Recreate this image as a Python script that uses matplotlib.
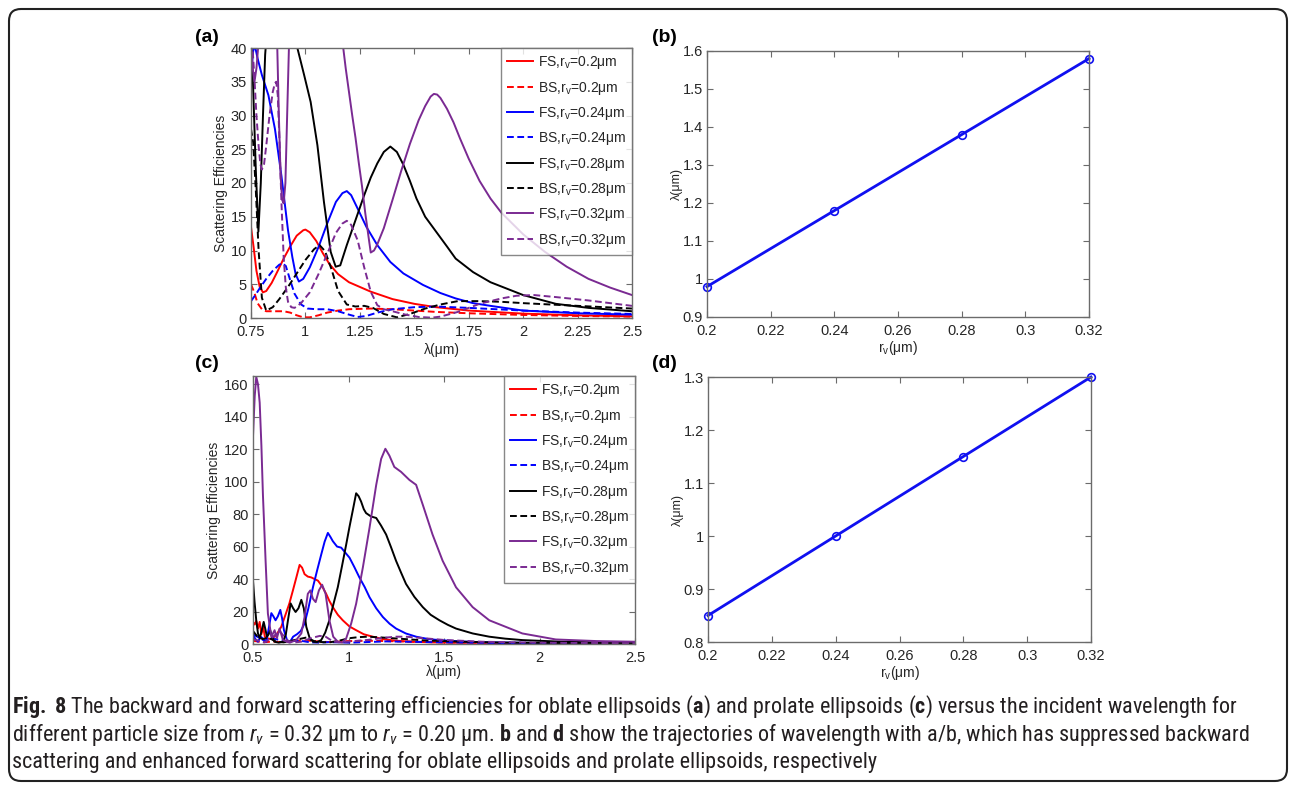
import matplotlib
matplotlib.use("Agg")
import matplotlib.pyplot as plt
from matplotlib.patches import FancyBboxPatch
from matplotlib.ticker import FormatStrFormatter

plt.rcParams['font.family'] = ['Liberation Sans', 'DejaVu Sans']
plt.rcParams['mathtext.fontset'] = 'custom'
plt.rcParams['mathtext.rm'] = 'Roboto Condensed'
plt.rcParams['mathtext.it'] = 'Roboto Condensed:italic'
plt.rcParams['mathtext.bf'] = 'Roboto Condensed:bold'

# ---------- panel (a): oblate ellipsoids ----------
a_fs_020_x = [0.75, 0.762, 0.775, 0.79, 0.805, 0.82, 0.845, 0.87, 0.9, 0.93, 0.96, 0.99, 1.0, 1.02, 1.05, 1.08,
              1.11, 1.15, 1.2, 1.25, 1.3, 1.4, 1.5, 1.6, 1.75, 2.0, 2.25, 2.5]
a_fs_020_y = [13.5, 10.5, 7.0, 4.6, 3.8, 4.0, 5.2, 6.8, 8.8, 10.6, 12.2, 13.0, 13.1, 12.7, 11.4, 9.6,
              8.0, 6.5, 5.3, 4.6, 3.9, 2.8, 2.1, 1.6, 1.1, 0.65, 0.4, 0.25]
a_bs_020_x = [0.75, 0.765, 0.78, 0.8, 0.82, 0.85, 0.9, 0.93, 0.96, 0.99, 1.02, 1.06, 1.1, 1.15, 1.2, 1.3,
              1.4, 1.5, 1.6, 1.75, 2.0, 2.25, 2.5]
a_bs_020_y = [5.0, 3.8, 2.2, 1.3, 1.0, 1.0, 1.0, 0.8, 0.4, 0.1, 0.1, 0.4, 0.8, 1.1, 1.3, 1.4,
              1.3, 1.1, 0.9, 0.7, 0.45, 0.3, 0.2]
a_fs_024_x = [0.75, 0.76, 0.767, 0.78, 0.8, 0.83, 0.86, 0.89, 0.92, 0.94, 0.955, 0.97, 0.99, 1.02, 1.06, 1.1,
              1.14, 1.17, 1.19, 1.21, 1.24, 1.28, 1.33, 1.39, 1.45, 1.54, 1.62, 1.69, 1.77, 1.85, 2.0, 2.25, 2.5]
a_fs_024_y = [36, 39.5, 40.5, 38.5, 36, 33, 28, 21, 13, 9, 6.5, 5.4, 5.8, 7.5, 10.5, 14.0,
              17.2, 18.5, 18.8, 18.2, 16.2, 13.5, 10.8, 8.3, 6.6, 4.9, 3.7, 2.9, 2.2, 1.8, 1.1, 0.7, 0.5]
a_bs_024_x = [0.75, 0.77, 0.79, 0.82, 0.85, 0.88, 0.895, 0.91, 0.93, 0.95, 0.98, 1.01, 1.05, 1.1, 1.15, 1.2,
              1.24, 1.28, 1.33, 1.4, 1.5, 1.6, 1.75, 2.0, 2.25, 2.5]
a_bs_024_y = [2.5, 3.4, 4.4, 5.8, 7.0, 7.9, 8.1, 7.7, 5.6, 3.6, 2.0, 1.4, 1.3, 1.3, 1.0, 0.5,
              0.15, 0.3, 0.8, 1.3, 1.6, 1.7, 1.5, 1.1, 0.8, 0.6]
a_fs_028_x = [0.75, 0.76, 0.772, 0.784, 0.795, 0.805, 0.815, 0.822, 0.95, 0.963, 0.994, 1.024, 1.055, 1.085,
              1.116, 1.139, 1.16, 1.19, 1.23, 1.27, 1.3, 1.33, 1.36, 1.39, 1.42, 1.45, 1.48, 1.51, 1.55,
              1.6, 1.65, 1.69, 1.77, 1.85, 2.0, 2.15, 2.3, 2.5]
a_fs_028_y = [42, 34, 22, 12.8, 20, 30, 39, 42, 42, 40, 36, 32, 25.6, 17.2,
              9.8, 7.6, 7.8, 10.8, 14.5, 18.2, 20.8, 22.9, 24.6, 25.4, 24.6, 22.7, 20.3, 17.7, 15.0,
              12.8, 10.6, 8.8, 6.8, 5.3, 3.4, 2.1, 1.5, 1.0]
a_bs_028_x = [0.75, 0.76, 0.772, 0.785, 0.8, 0.82, 0.85, 0.88, 0.92, 0.96, 1.0, 1.04, 1.065, 1.09, 1.12,
              1.15, 1.19, 1.23, 1.27, 1.31, 1.36, 1.42, 1.48, 1.55, 1.62, 1.7, 1.8, 1.9, 2.0, 2.25, 2.5]
a_bs_028_y = [28, 26, 19, 10, 3.0, 1.1, 1.6, 2.8, 4.6, 6.6, 8.6, 10.2, 10.8, 9.9, 7.2,
              4.0, 2.0, 1.7, 1.8, 1.5, 0.6, 0.1, 0.6, 1.4, 2.0, 2.5, 2.5, 2.4, 2.2, 1.8, 1.4]
a_fs_032_x = [0.75, 0.758, 0.766, 0.775, 0.785, 0.87, 0.878, 0.886, 0.893, 0.9, 0.908, 0.916, 0.925, 1.1,
              1.17, 1.185, 1.2, 1.215, 1.23, 1.245, 1.26, 1.275, 1.29, 1.3, 1.315, 1.33, 1.36, 1.4, 1.44,
              1.48, 1.52, 1.55, 1.575, 1.59, 1.605, 1.62, 1.65, 1.68, 1.71, 1.75, 1.8, 1.85, 1.9, 1.95,
              2.0, 2.1, 2.2, 2.3, 2.4, 2.5]
a_fs_032_y = [41, 37, 35, 37, 41, 41, 30, 21, 17.5, 17, 20, 30, 41, 41,
              41, 37, 33.5, 30, 26.7, 23, 19.5, 15.5, 12, 9.7, 10.0, 10.9, 13.3, 17.5, 21.8,
              25.8, 29.3, 31.4, 32.8, 33.2, 33.1, 32.6, 31.0, 29.0, 26.6, 23.6, 20.3, 17.7, 15.6, 14.0,
              12.4, 9.8, 7.6, 5.8, 4.5, 3.4]
a_bs_032_x = [0.755, 0.765, 0.775, 0.785, 0.793, 0.8, 0.81, 0.82, 0.835, 0.85, 0.86, 0.866, 0.873, 0.88,
              0.89, 0.9, 0.91, 0.92, 0.935, 0.95, 0.98, 1.02, 1.06, 1.1, 1.14, 1.17, 1.19, 1.21, 1.24,
              1.27, 1.3, 1.33, 1.36, 1.4, 1.46, 1.52, 1.58, 1.62, 1.7, 1.8, 1.9, 1.97, 2.05, 2.15, 2.3, 2.5]
a_bs_032_y = [41, 36, 30, 25.5, 22.8, 22, 22.8, 25.5, 30, 33.5, 34.8, 35, 33, 27,
              17, 9, 4.5, 2.4, 1.6, 1.5, 2.2, 3.8, 6.5, 9.5, 12.6, 14.0, 14.4, 13.8, 11.5,
              7.5, 3.9, 1.9, 1.3, 1.0, 0.5, 0.15, 0.05, 0.2, 0.9, 2.1, 2.9, 3.3, 3.4, 3.1, 2.6, 1.8]

# ---------- panel (c): prolate ellipsoids ----------
c_fs_020_x = [0.5, 0.509, 0.517, 0.526, 0.535, 0.544, 0.553, 0.562, 0.575, 0.596, 0.622, 0.648, 0.67, 0.69,
              0.709, 0.727, 0.744, 0.757, 0.77, 0.787, 0.805, 0.822, 0.84, 0.862, 0.883, 0.9, 0.918, 0.944,
              0.97, 1.005, 1.04, 1.08, 1.127, 1.18, 1.249, 1.35, 1.45, 1.563, 1.8, 2.1, 2.5]
c_fs_020_y = [13.6, 12.0, 14.2, 9.5, 13.6, 6, 10.5, 4.5, 3.5, 3.0, 5.5, 10.6, 18, 24.8,
              33, 41, 48.7, 47, 43, 41.5, 41, 40, 39, 35.5, 30.9, 26.5, 22.7, 18.0,
              14.6, 10.8, 8.5, 6.0, 4.5, 3.0, 2.0, 1.3, 1.0, 0.8, 0.6, 0.5, 0.4]
c_bs_020_x = [0.5, 0.55, 0.6, 0.65, 0.7, 0.75, 0.8, 0.85, 0.9, 0.95, 1.0, 1.1, 1.2, 1.3, 1.5, 1.8, 2.1, 2.5]
c_bs_020_y = [2.0, 1.0, 1.5, 1.2, 1.8, 2.2, 2.0, 1.5, 1.2, 1.5, 1.8, 2.0, 1.8, 1.5, 1.0, 0.6, 0.4, 0.3]
c_fs_024_x = [0.5, 0.513, 0.526, 0.54, 0.556, 0.57, 0.583, 0.596, 0.607, 0.618, 0.63, 0.643, 0.652, 0.662,
              0.678, 0.695, 0.71, 0.73, 0.75, 0.77, 0.79, 0.814, 0.835, 0.857, 0.875, 0.892, 0.905, 0.918,
              0.94, 0.962, 0.985, 1.005, 1.03, 1.057, 1.085, 1.11, 1.145, 1.18, 1.215, 1.249, 1.3, 1.354,
              1.42, 1.476, 1.6, 1.737, 2.0, 2.5]
c_fs_024_y = [5.5, 3.0, 1.4, 4.5, 3.0, 1.4, 10, 19, 17, 14.6, 17, 21, 16, 8.5,
              2.4, 1.5, 4.5, 6, 8, 12.6, 22, 35, 45, 55, 63, 68.4, 66, 63.3,
              60, 59.3, 56, 53.2, 47.5, 41, 35, 28.8, 22, 16.6, 12.5, 9.5, 6.5, 4.5,
              3.0, 2.4, 1.5, 1.0, 0.6, 0.4]
c_bs_024_x = [0.5, 0.53, 0.56, 0.6, 0.64, 0.68, 0.72, 0.76, 0.8, 0.85, 0.9, 0.95, 1.0, 1.1, 1.2, 1.3, 1.5,
              1.8, 2.1, 2.5]
c_bs_024_y = [6, 4, 2, 3.5, 2.5, 1.5, 2.0, 1.8, 1.0, 0.8, 1.2, 1.0, 0.8, 1.2, 1.6, 1.4, 1.0,
              0.6, 0.4, 0.3]
c_fs_028_x = [0.5, 0.508, 0.517, 0.526, 0.535, 0.545, 0.556, 0.565, 0.573, 0.582, 0.59, 0.6, 0.613, 0.635,
              0.657, 0.672, 0.683, 0.697, 0.71, 0.723, 0.738, 0.753, 0.766, 0.779, 0.797, 0.814, 0.835,
              0.857, 0.878, 0.9, 0.92, 0.944, 0.966, 0.988, 1.005, 1.023, 1.04, 1.053, 1.066, 1.08, 1.092,
              1.118, 1.145, 1.17, 1.197, 1.223, 1.249, 1.275, 1.301, 1.345, 1.389, 1.43, 1.476, 1.52,
              1.563, 1.65, 1.737, 1.82, 1.911, 2.1, 2.3, 2.5]
c_fs_028_y = [39, 26, 14.6, 6.5, 3.5, 8, 13.6, 9, 4.5, 6, 8.5, 4, 1.4, 0.8,
              1.4, 6, 14.6, 25, 22, 19.7, 22, 27.2, 22, 10.6, 3.5, 1.4, 1.2,
              2.4, 7, 14.6, 24, 35, 48, 61.3, 72, 82.6, 92.8, 91, 87.7, 83, 80.6,
              78.5, 77.6, 73, 67.4, 59.5, 51.2, 44, 37, 29, 22.7, 18, 14.6, 11.8,
              9.5, 6.5, 4.5, 3.3, 2.4, 1.5, 1.0, 0.8]
c_bs_028_x = [0.5, 0.52, 0.55, 0.58, 0.62, 0.66, 0.7, 0.74, 0.78, 0.82, 0.86, 0.9, 0.95, 1.0, 1.05, 1.1,
              1.15, 1.2, 1.3, 1.4, 1.6, 1.8, 2.1, 2.5]
c_bs_028_y = [8, 5, 3, 4, 1.5, 1.0, 2, 3, 4.0, 1.8, 1.2, 1.0, 2.0, 3.5, 4.2, 4.5,
              4.2, 3.8, 3.0, 2.2, 1.4, 0.9, 0.6, 0.4]
c_fs_032_x = [0.5, 0.509, 0.517, 0.526, 0.535, 0.544, 0.552, 0.566, 0.578, 0.596, 0.613, 0.625, 0.639,
              0.657, 0.692, 0.726, 0.753, 0.77, 0.787, 0.8, 0.814, 0.828, 0.845, 0.862, 0.88, 0.9, 0.92,
              0.944, 0.967, 0.988, 1.014, 1.04, 1.075, 1.11, 1.145, 1.171, 1.193, 1.214, 1.24, 1.275,
              1.319, 1.354, 1.389, 1.44, 1.493, 1.563, 1.65, 1.737, 1.91, 2.085, 2.3, 2.5]
c_fs_032_y = [128, 152.7, 164.5, 160, 148.6, 122, 91.8, 51, 18.7, 4.5, 8.5, 3.5, 9.5,
              2.4, 0.8, 2.4, 6.5, 16.6, 30.9, 33, 27.8, 25.8, 33, 36.5, 30.9, 14.6, 4.5,
              1.4, 0.8, 3.5, 12.6, 24.8, 47, 71.5, 97.9, 114, 120.2, 116, 109, 106,
              101, 98, 85.7, 67.4, 51.2, 34.9, 22.7, 14.6, 6.5, 2.8, 1.8, 1.4]
c_bs_032_x = [0.5, 0.53, 0.56, 0.6, 0.64, 0.68, 0.72, 0.76, 0.8, 0.85, 0.88, 0.92, 0.96, 1.0, 1.1, 1.2,
              1.25, 1.3, 1.4, 1.5, 1.7, 2.0, 2.5]
c_bs_032_y = [3, 2, 1, 4, 8, 2, 1, 1.5, 3.5, 5.0, 4.5, 1.5, 1.0, 1.5, 2.5, 4.0,
              4.5, 4.5, 3.5, 2.5, 1.4, 0.8, 0.5]

# ---------- panels (b) and (d): peak wavelength vs size ----------
r_v = [0.2, 0.24, 0.28, 0.32]
b_lambda = [0.98, 1.18, 1.38, 1.58]
d_lambda = [0.85, 1.0, 1.15, 1.3]

sizes = ['0.2', '0.24', '0.28', '0.32']
colors = ['#ff0000', '#0000ff', '#000000', '#7a2a92']

AX_COL = '#6b6b6b'
TXT_COL = '#262626'


def style_axes(ax):
    for sp in ax.spines.values():
        sp.set_color(AX_COL)
        sp.set_linewidth(1.0)
    ax.tick_params(direction='in', top=True, right=True, length=4, width=0.8,
                   color=AX_COL, labelcolor=TXT_COL, labelsize=10.5)
    ax.tick_params(axis='x', pad=5)
    ax.tick_params(axis='y', pad=3)


def spectra(ax, curves, xlim, ylim, xticks, yticks, xpad):
    handles = []
    for i, (fx, fy, bx, by) in enumerate(curves):
        h1, = ax.plot(fx, fy, '-', color=colors[i], lw=1.4,
                      label='FS,r$_\\mathregular{v}$=' + sizes[i] + 'μm')
        h2, = ax.plot(bx, by, '--', color=colors[i], lw=1.4, dashes=(3.5, 1.8),
                      label='BS,r$_\\mathregular{v}$=' + sizes[i] + 'μm')
        handles += [h1, h2]
    ax.set_xlim(*xlim)
    ax.set_ylim(*ylim)
    ax.set_xticks(xticks)
    ax.set_yticks(yticks)
    ax.xaxis.set_major_formatter(FormatStrFormatter('%g'))
    ax.yaxis.set_major_formatter(FormatStrFormatter('%g'))
    style_axes(ax)
    ax.set_xlabel('λ(μm)', fontsize=10, color=TXT_COL, labelpad=xpad)
    ax.set_ylabel('Scattering Efficiencies', fontsize=10, color=TXT_COL, labelpad=2)
    leg = ax.legend(handles=handles, loc='upper right', fontsize=10, frameon=True,
                    fancybox=False, borderaxespad=0, handlelength=1.9, handletextpad=0.3,
                    labelspacing=0.6, borderpad=0.45)
    leg.get_frame().set_edgecolor(AX_COL)
    leg.get_frame().set_linewidth(1.0)
    for t in leg.get_texts():
        t.set_color(TXT_COL)


def trajectory(ax, y, ylim, yticks):
    ax.plot(r_v, y, '-o', color='#1010f0', lw=2.0, ms=5.5, mfc='none', mew=1.2, clip_on=False)
    ax.set_xlim(0.2, 0.32)
    ax.set_ylim(*ylim)
    ax.set_xticks([0.2, 0.22, 0.24, 0.26, 0.28, 0.3, 0.32])
    ax.set_yticks(yticks)
    ax.xaxis.set_major_formatter(FormatStrFormatter('%g'))
    ax.yaxis.set_major_formatter(FormatStrFormatter('%g'))
    style_axes(ax)
    ax.set_xlabel('r$_\\mathregular{v}$(μm)', fontsize=10, color=TXT_COL, labelpad=1)
    ax.set_ylabel('λ(μm)', fontsize=9, color=TXT_COL, labelpad=0)


W, H = 1296, 788
fig = plt.figure(figsize=(W / 100, H / 100), dpi=100)


def px_axes(l, t, r, b):
    return fig.add_axes([l / W, 1 - b / H, (r - l) / W, (b - t) / H])


ax_a = px_axes(251, 48, 632, 318)
ax_b = px_axes(707, 51, 1089, 317)
ax_c = px_axes(253, 376, 635, 644)
ax_d = px_axes(708, 377, 1091, 642)

spectra(ax_a,
        [(a_fs_020_x, a_fs_020_y, a_bs_020_x, a_bs_020_y),
         (a_fs_024_x, a_fs_024_y, a_bs_024_x, a_bs_024_y),
         (a_fs_028_x, a_fs_028_y, a_bs_028_x, a_bs_028_y),
         (a_fs_032_x, a_fs_032_y, a_bs_032_x, a_bs_032_y)],
        (0.75, 2.5), (0, 40), [0.75, 1, 1.25, 1.5, 1.75, 2, 2.25, 2.5], range(0, 41, 5), 3)
spectra(ax_c,
        [(c_fs_020_x, c_fs_020_y, c_bs_020_x, c_bs_020_y),
         (c_fs_024_x, c_fs_024_y, c_bs_024_x, c_bs_024_y),
         (c_fs_028_x, c_fs_028_y, c_bs_028_x, c_bs_028_y),
         (c_fs_032_x, c_fs_032_y, c_bs_032_x, c_bs_032_y)],
        (0.5, 2.5), (0, 165), [0.5, 1, 1.5, 2, 2.5], range(0, 161, 20), 0)
trajectory(ax_b, b_lambda, (0.9, 1.6), [0.9, 1.0, 1.1, 1.2, 1.3, 1.4, 1.5, 1.6])
trajectory(ax_d, d_lambda, (0.8, 1.3), [0.8, 0.9, 1.0, 1.1, 1.2, 1.3])

for lab, x, y in [('(a)', 195, 38), ('(b)', 652, 38), ('(c)', 195, 364), ('(d)', 652, 363)]:
    fig.text(x / W, 1 - y / H, lab, fontsize=14, fontweight='bold', va='center', ha='left')

# caption
cap_lines = [
    r'$\mathbf{Fig.\ 8}$ The backward and forward scattering efficiencies for oblate ellipsoids ($\mathbf{a}$) '
    r'and prolate ellipsoids ($\mathbf{c}$) versus the incident wavelength for',
    r'different particle size from $r_v$ = 0.32 μm to $r_v$ = 0.20 μm. $\mathbf{b}$ and $\mathbf{d}$ show the '
    r'trajectories of wavelength with a/b, which has suppressed backward',
    'scattering and enhanced forward scattering for oblate ellipsoids and prolate ellipsoids, respectively',
]
for i, line in enumerate(cap_lines):
    fig.text(12 / W, 1 - (707 + 27.5 * i) / H, line, fontsize=15.9, family=['Roboto Condensed', 'DejaVu Sans'],
             color='#231f20', va='center', ha='left')

border = FancyBboxPatch((0.09, 0.07), 12.78, 7.72, boxstyle='round,pad=0,rounding_size=0.12',
                        transform=fig.dpi_scale_trans, fill=False, edgecolor='#222222', lw=1.5)
fig.patches.append(border)

fig.savefig('out.png', dpi=100)
